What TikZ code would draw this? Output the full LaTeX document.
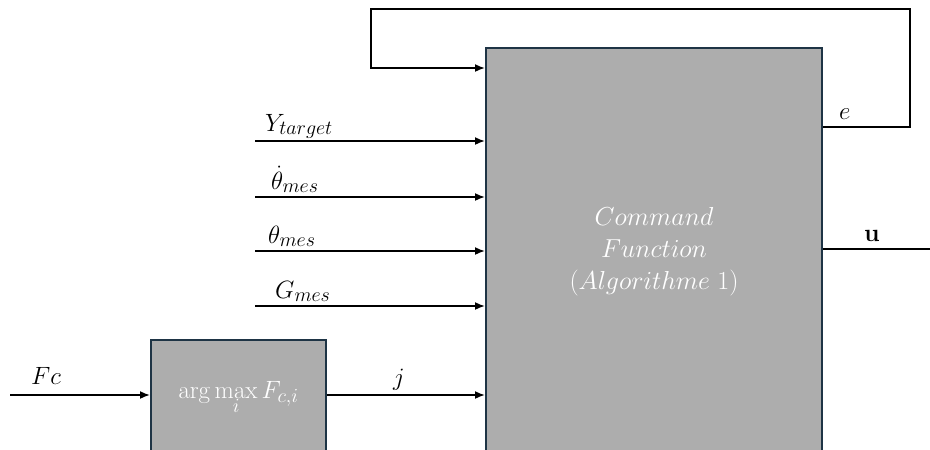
\RequirePackage{fix-cm}
\documentclass[tikz,border=0pt]{standalone}
\usetikzlibrary{arrows.meta}
\renewcommand\defaultscriptratio{.8}
\renewcommand\defaultscriptscriptratio{.65}
\definecolor{boxgray}{HTML}{ADADAD}
\definecolor{boxedge}{HTML}{1E3445}
\definecolor{boxtext}{HTML}{FFFFFF}
\begin{document}
\begin{tikzpicture}[x=1pt,y=-1pt,
  block/.style={draw=boxedge, line width=2pt, fill=boxgray, text=boxtext,
    inner sep=0pt, align=center},
  wire/.style={line width=1.7pt, draw=black},
  sig/.style={wire, -{Latex[length=10pt,width=8pt]}},
  lab/.style={anchor=base west, inner sep=0pt, font=\fontsize{25}{28}\selectfont},
  boxfont/.style={font=\fontsize{26}{32}\selectfont}]
\useasboundingbox (0,0) rectangle (930,450);
\clip (0,0) rectangle (930,450);

% blocks
\node[block, boxfont, minimum width=336pt, minimum height=407pt] (cmd) at (654,251.5)
  {$Command$\\ $Function$\\ $(Algorithme\;1)$};
\node[block, font=\fontsize{25}{28}\selectfont, minimum width=175pt, minimum height=115pt] (amax) at (238.5,397.5)
  {$\displaystyle\arg\max_i F_{c,i}$};

% measured inputs
\coordinate (yin) at (255,141);
\coordinate (tdin) at (255,197);
\coordinate (tin) at (255,251);
\coordinate (gin) at (255,306);
\draw[sig] (yin) -- (yin -| cmd.west);
\draw[sig] (tdin) -- (tdin -| cmd.west);
\draw[sig] (tin) -- (tin -| cmd.west);
\draw[sig] (gin) -- (gin -| cmd.west);
\node[lab] (ylab) at (265,131) {$Y_{target}$};
\node[lab] (tdlab) at (271,189) {$\dot\theta_{mes}$};
\node[lab] (tlab) at (268,243) {$\theta_{mes}$};
\node[lab] (glab) at (275,298) {$G_{mes}$};

% force selection chain
\coordinate (fcin) at (10,395);
\draw[sig] (fcin) -- (fcin -| amax.west);
\node[lab] (fclab) at (31,384) {$Fc$};
\draw[sig] (fcin -| amax.east) -- (fcin -| cmd.west);
\node[lab] (jlab) at (393,385) {$j$};

% feedback loop of e
\coordinate (eout) at (822,127);
\coordinate (er) at (910,127);
\coordinate (etr) at (910,9);
\coordinate (etl) at (371,9);
\coordinate (ebl) at (371,68);
\draw[sig, line join=miter] (eout -| cmd.east) -- (er) -- (etr) -- (etl) -- (ebl) -- (ebl -| cmd.west);
\node[lab] (elab) at (839,119) {$e$};

% command output
\coordinate (uend) at (930,249);
\draw[wire] (uend -| cmd.east) -- (uend);
\node[lab] (ulab) at (864,241) {$\mathbf{u}$};
\end{tikzpicture}
\end{document}
